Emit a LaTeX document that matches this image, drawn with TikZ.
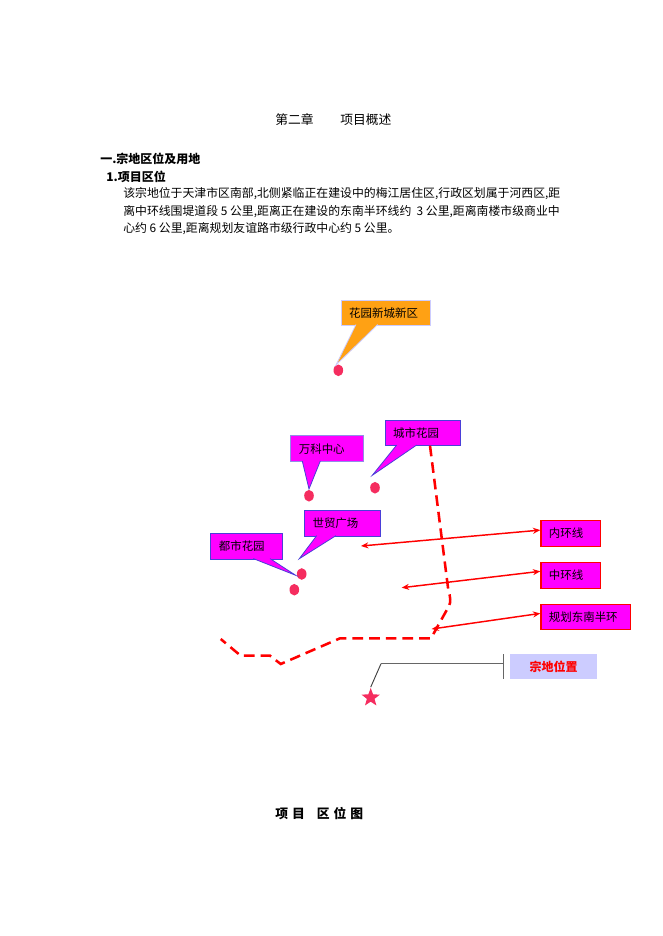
\documentclass[tikz,border=0pt]{standalone}
\usepackage{fontspec}
\setmainfont{Noto Sans CJK SC}
\usetikzlibrary{arrows.meta,shapes.geometric}
\definecolor{dotred}{HTML}{F52D5F}
\definecolor{palelav}{HTML}{CCCCFF}
\definecolor{tailorange}{HTML}{FFA114}
\definecolor{edgeblue}{HTML}{4A3FD8}
\definecolor{boxpink}{HTML}{FF00FF}
\tikzset{
  txt/.style={anchor=west,inner sep=0pt,font=\fontsize{8.9pt}{9pt}\selectfont},
  bold/.style={txt,font=\fontsize{9pt}{9pt}\selectfont\bfseries},
  callbox/.style={draw=edgeblue,fill=boxpink,line width=0.8pt,anchor=west,inner ysep=0pt,inner xsep=6pt,minimum height=19.2pt,font=\fontsize{8.6pt}{8.6pt}\selectfont},
  calltail/.style={draw=edgeblue,fill=boxpink,line width=0.6pt,line join=miter},
  ringbox/.style={callbox,draw=red,line width=0.9pt},
  ringarrow/.style={draw=red,line width=1.1pt,{Stealth[length=5.5pt,width=4.5pt]}-{Stealth[length=5.5pt,width=4.5pt]}},
  dot/.style={draw=none,fill=dotred,ellipse,inner sep=0pt,minimum width=7.2pt,minimum height=8.7pt},
}
\begin{document}
\begin{tikzpicture}[x=0.75pt,y=-0.75pt]
\useasboundingbox (0,0) rectangle (662,936);

\node[txt,font=\fontsize{9.6pt}{9.6pt}\selectfont] (title) at (275,119.5) {第二章\hspace{20pt}项目概述};
\node[bold] (sec) at (100,158.5) {一.宗地区位及用地};
\node[bold] (subsec) at (106,176.5) {1.项目区位};
\node[txt] (line1) at (123,193.5) {该宗地位于天津市区南部,北侧紧临正在建设中的梅江居住区,行政区划属于河西区,距};
\node[txt] (line2) at (123,211.5) {离中环线围堤道段 5 公里,距离正在建设的东南半环线约\hspace{2pt} 3 公里,距离南楼市级商业中};
\node[txt] (line3) at (123,228.5) {心约 6 公里,距离规划友谊路市级行政中心约 5 公里。};

\node[dot] (dot1) at (338.3,370.3) {};
\node[dot] (dot2) at (309,495.7) {};
\node[dot] (dot3) at (375,487.7) {};
\node[dot] (dot4) at (301.7,574) {};
\node[dot] (dot5) at (294.3,589.7) {};

\coordinate (tip1) at (336,365);
\coordinate (tip2) at (309,489);
\coordinate (tip3) at (372.3,475.3);
\coordinate (tip4) at (299.3,558.7);
\coordinate (tip5) at (295.7,575.3);

\node[callbox,draw=palelav,fill=tailorange,minimum width=67pt,text width=55pt] (xq) at (340.7,313) {花园新城新区};
\path[calltail,draw=palelav,fill=tailorange] (356,324.5) -- (tip1) -- (377.7,324.5);
\node[callbox,draw=edgeblue!60,minimum width=54.5pt,text width=42.5pt] (wk) at (290.3,448.7) {万科中心};
\path[calltail] (302.3,461) -- (tip2) -- (320.3,461);
\node[callbox,minimum width=56.7pt,text width=44.7pt] (cs) at (384.7,433) {城市花园};
\path[calltail] (396.7,445) -- (tip3) -- (416.7,445);
\node[callbox,minimum width=57.2pt,text width=45.2pt] (sm) at (304,523.5) {世贸广场};
\path[calltail] (316.7,535.6) -- (tip4) -- (336,535.6);
\node[callbox,minimum width=53.8pt,text width=41.8pt] (ds) at (210.3,546.5) {都市花园};
\path[calltail] (253.3,558.6) -- (tip5) -- (270,558.6);

\node[ringbox,minimum width=44.6pt,text width=32.6pt] (nh) at (540.3,533.3) {内环线};
\node[ringbox,minimum width=44.6pt,text width=32.6pt] (zh) at (540.3,575.3) {中环线};
\node[ringbox,minimum width=67.3pt,text width=55.3pt] (gh) at (540.3,617) {规划东南半环};

\coordinate (nhend) at (361,546);
\coordinate (zhend) at (401.7,587.7);
\coordinate (ghend) at (431.7,629);
\path[ringarrow] (nhend) -- ([yshift=2.4pt]nh.west);
\path[ringarrow] (zhend) -- ([yshift=3pt]zh.west);
\path[ringarrow] (ghend) -- ([yshift=2.7pt]gh.west);

\path[draw=red,line width=1.9pt,dash pattern=on 8pt off 4.5pt] (430,445.7) -- (448.3,590) .. controls (450.5,597) and (451,602) .. (449,606) -- (431,638.3) -- (340,638.3) -- (280.7,664) -- (270,655.7) -- (240.7,655.7) -- (220.7,639);

\node[star,star points=5,star point ratio=2.4,fill=dotred,inner sep=0pt,minimum size=14.5pt] (site) at (370.7,697.6) {};
\node[fill=palelav,font=\fontsize{9pt}{9pt}\selectfont\bfseries,text=red,minimum width=64.8pt,minimum height=19pt,inner sep=0pt] (sitelabel) at (553.5,666.7) {宗地位置};
\coordinate (bend) at (381,663.7);
\coordinate (bartop) at (503.7,654);
\coordinate (barbot) at (503.7,679.3);
\coordinate (bar) at (503.7,663.7);
\path[draw=black!75,line width=0.7pt] (site.north) -- (bend);
\path[draw=black!60,line width=1pt] (bend) -- (bar);
\path[draw=black!60,line width=1pt] (bartop) -- (barbot);

\node[bold,font=\fontsize{9.6pt}{9.6pt}\selectfont\bfseries] (caption) at (275,814) {项\hspace{3pt}目\hspace{9pt}区\hspace{3pt}位\hspace{3pt}图};
\end{tikzpicture}
\end{document}
